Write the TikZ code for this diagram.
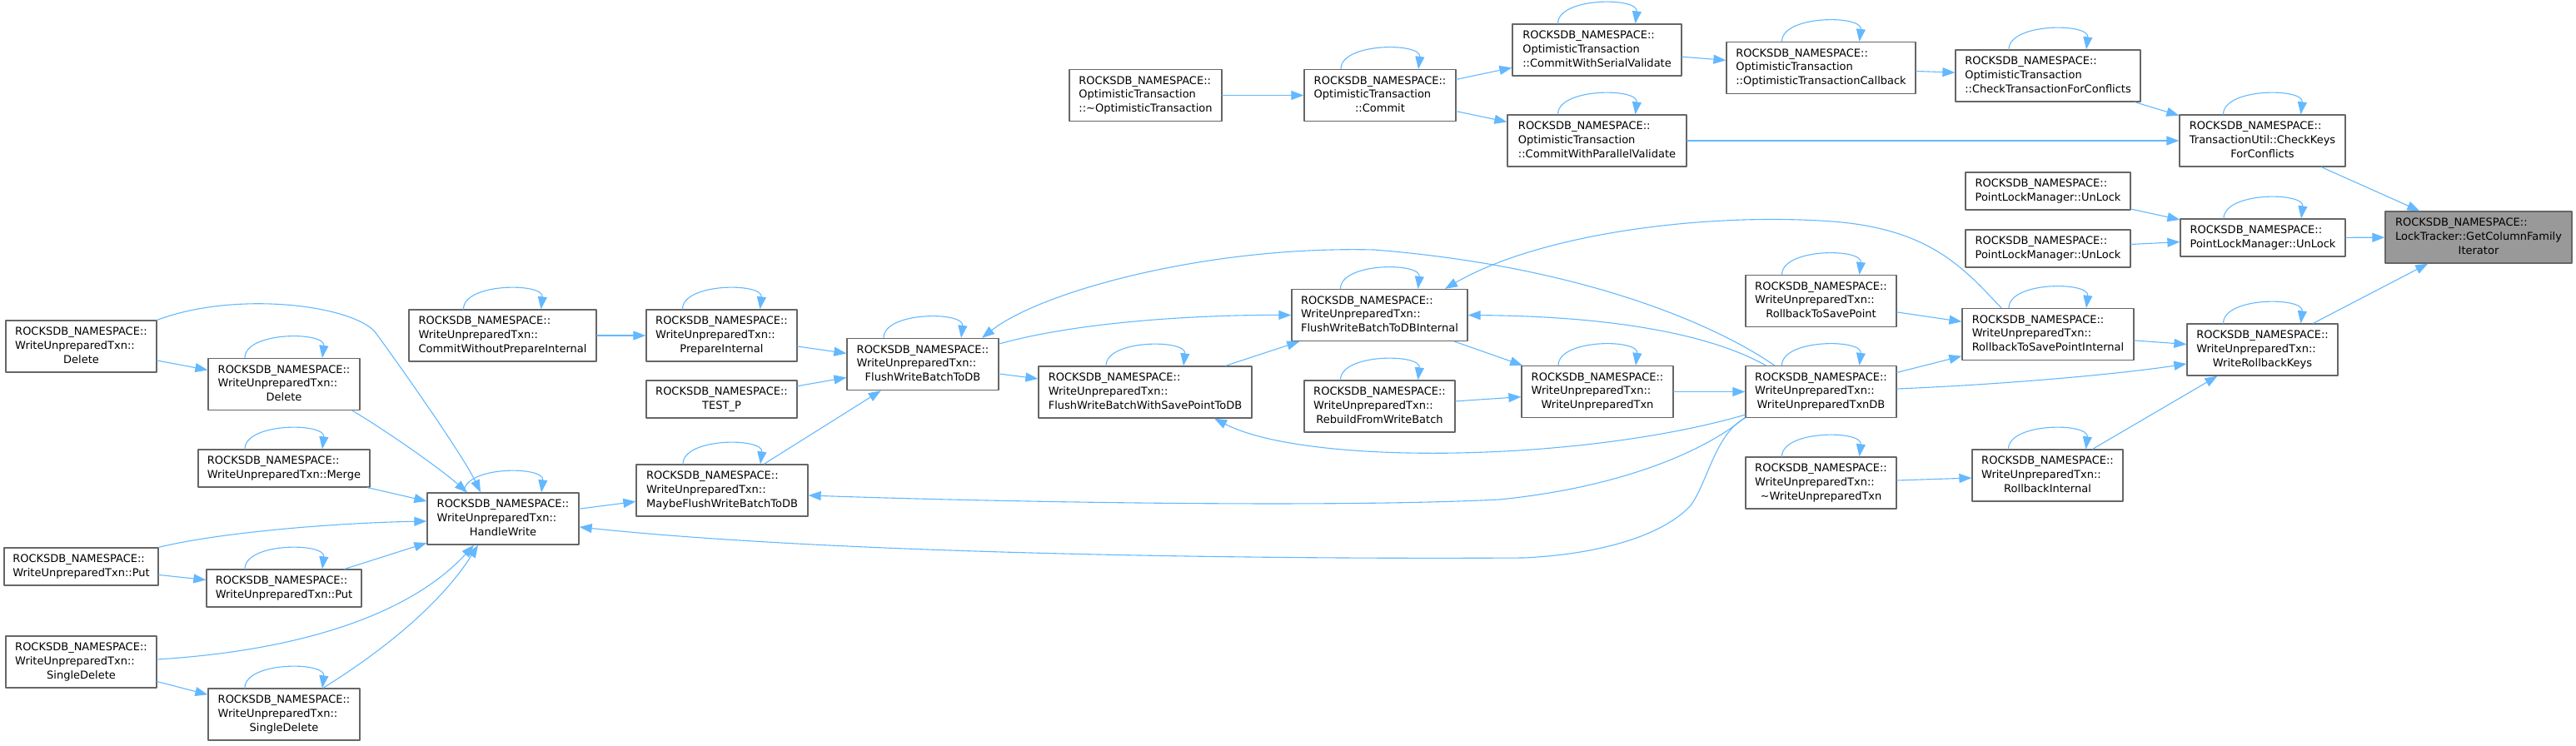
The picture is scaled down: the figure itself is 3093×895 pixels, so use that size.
\documentclass[tikz,border=0pt]{standalone}
\usepackage{fontspec}
\setmainfont{DejaVu Sans}
\usetikzlibrary{arrows.meta}
\definecolor{edgeblue}{HTML}{63B8FF}
\definecolor{boxline}{HTML}{666666}
\definecolor{hlfill}{HTML}{999999}
\newcommand{\nodefont}{\fontsize{13pt}{16.7pt}\selectfont}
\newcommand{\lblthree}[3]{\begin{tabular}{@{}l@{}}#1\\#2\\\multicolumn{1}{@{}c@{}}{#3}\end{tabular}}
\newcommand{\lbltwo}[2]{\begin{tabular}{@{}l@{}}#1\\\multicolumn{1}{@{}c@{}}{#2}\end{tabular}}
\newcommand{\rns}{ROCKSDB\_NAMESPACE::}
\newcommand{\wut}{WriteUnpreparedTxn::}
\newcommand{\otname}{OptimisticTransaction}
\begin{document}
\begin{tikzpicture}[x=1pt, y=-1pt, line cap=round, line join=round,
  box/.style={draw=boxline, line width=1.3pt, fill=white, inner sep=0pt, minimum height=62pt, font=\nodefont},
  twoline/.style={box, minimum height=45pt},
  focus/.style={box, fill=hlfill},
  call/.style={draw=edgeblue, line width=1.1pt, -{Triangle[length=15pt, width=11pt]}}]
\useasboundingbox (0,0) rectangle (3093,895);
\node[box, minimum width=183pt] (otdtor) at (1375.5,114.5) {\lblthree{\rns}{\otname}{::\textasciitilde\otname}};
\node[box, minimum width=182pt] (commit) at (1657,114.5) {\lblthree{\rns}{\otname}{::Commit}};
\node[box, minimum width=203pt] (serial) at (1917.5,60) {\lblthree{\rns}{\otname}{::CommitWithSerialValidate}};
\node[box, minimum width=227pt] (callback) at (2186.5,81.5) {\lblthree{\rns}{\otname}{::OptimisticTransactionCallback}};
\node[box, minimum width=222pt] (checktxn) at (2459,91) {\lblthree{\rns}{\otname}{::CheckTransactionForConflicts}};
\node[box, minimum width=215pt] (parallel) at (1917.5,169) {\lblthree{\rns}{\otname}{::CommitWithParallelValidate}};
\node[box, minimum width=199pt] (checkkeys) at (2716.5,169) {\lblthree{\rns}{TransactionUtil::CheckKeys}{ForConflicts}};
\node[twoline, minimum width=198pt] (plmA) at (2459,229.5) {\lbltwo{\rns}{PointLockManager::UnLock}};
\node[twoline, minimum width=198pt] (plmB) at (2459,298.5) {\lbltwo{\rns}{PointLockManager::UnLock}};
\node[twoline, minimum width=198pt] (plmC) at (2717,285.5) {\lbltwo{\rns}{PointLockManager::UnLock}};
\node[focus, minimum width=224pt] (target) at (2976,285) {\lblthree{\rns}{LockTracker::GetColumnFamily}{Iterator}};
\node[box, minimum width=181pt] (rbsp) at (2186.5,361.5) {\lblthree{\rns}{\wut}{RollbackToSavePoint}};
\node[box, minimum width=206pt] (rbspint) at (2459,401.5) {\lblthree{\rns}{\wut}{RollbackToSavePointInternal}};
\node[box, minimum width=181pt] (wrk) at (2716.5,420) {\lblthree{\rns}{\wut}{WriteRollbackKeys}};
\node[box, minimum width=181pt] (utxndb) at (2186.5,470.5) {\lblthree{\rns}{\wut}{WriteUnpreparedTxnDB}};
\node[box, minimum width=181pt] (utxndtor) at (2186.5,580) {\lblthree{\rns}{\wut}{\textasciitilde WriteUnpreparedTxn}};
\node[box, minimum width=181pt] (rbint) at (2458.5,571) {\lblthree{\rns}{\wut}{RollbackInternal}};
\node[box, minimum width=182pt] (utxnctor) at (1918,470.5) {\lblthree{\rns}{\wut}{WriteUnpreparedTxn}};
\node[box, minimum width=181pt] (rebuild) at (1656.5,488) {\lblthree{\rns}{\wut}{RebuildFromWriteBatch}};
\node[box, minimum width=211pt] (fwbint) at (1656.5,378.5) {\lblthree{\rns}{\wut}{FlushWriteBatchToDBInternal}};
\node[box, minimum width=256pt] (fwbsp) at (1375,471) {\lblthree{\rns}{\wut}{FlushWriteBatchWithSavePointToDB}};
\node[box, minimum width=182pt] (fwb) at (1108,437.5) {\lblthree{\rns}{\wut}{FlushWriteBatchToDB}};
\node[box, minimum width=181pt] (prepint) at (866.5,403) {\lblthree{\rns}{\wut}{PrepareInternal}};
\node[twoline, minimum width=181pt] (testp) at (866.5,479.5) {\lbltwo{\rns}{TEST\_P}};
\node[box, minimum width=206pt] (maybeflush) at (867,589) {\lblthree{\rns}{\wut}{MaybeFlushWriteBatchToDB}};
\node[box, minimum width=225pt] (cwoprep) at (603.5,403) {\lblthree{\rns}{\wut}{CommitWithoutPrepareInternal}};
\node[box, minimum width=182pt] (handlewrite) at (604,623) {\lblthree{\rns}{\wut}{HandleWrite}};
\node[box, minimum width=181pt] (deleteA) at (97.5,416) {\lblthree{\rns}{\wut}{Delete}};
\node[box, minimum width=182pt] (deleteB) at (341,461.5) {\lblthree{\rns}{\wut}{Delete}};
\node[twoline, minimum width=206pt] (merge) at (341,562.5) {\lbltwo{\rns}{\wut Merge}};
\node[twoline, minimum width=185pt] (putA) at (97.5,680.5) {\lbltwo{\rns}{\wut Put}};
\node[twoline, minimum width=186pt] (putB) at (341,706.5) {\lbltwo{\rns}{\wut Put}};
\node[box, minimum width=181pt] (sdelA) at (97.5,795) {\lblthree{\rns}{\wut}{SingleDelete}};
\node[box, minimum width=182pt] (sdelB) at (341,858) {\lblthree{\rns}{\wut}{SingleDelete}};
\foreach \a/\b in {otdtor/commit, commit/serial, commit/parallel, serial/callback, callback/checktxn,
  checktxn/checkkeys, parallel/checkkeys, checkkeys/target, plmA/plmC, plmB/plmC, plmC/target,
  wrk/target, rbspint/wrk, rbint/wrk, rbsp/rbspint, utxndb/rbspint, utxndtor/rbint,
  utxnctor/utxndb, rebuild/utxnctor, fwbint/utxnctor, fwbsp/fwbint, fwb/fwbsp, prepint/fwb,
  testp/fwb, maybeflush/fwb, cwoprep/prepint, handlewrite/maybeflush, deleteA/deleteB,
  merge/handlewrite, putA/putB, putB/handlewrite, sdelA/sdelB}
  \draw[call] (\a) -- (\b);
\draw[call] ([yshift=24.5pt]fwb.east) .. controls (1300,385) and (1450,378) .. (fwbint.west);
\draw[call] ([xshift=-66.5pt]utxndb.north) .. controls (2060,405) and (1950,380) .. (fwbint.east);
\draw[call] ([xshift=-56pt]utxndb.north) .. controls (2060,390) and (1900,320) .. (1650,300)
  .. controls (1450,295) and (1250,350) .. ([xshift=71pt]fwb.north);
\draw[call] ([xshift=-56pt]rbspint.north) .. controls (2360,325) and (2320,275) .. (2200,266)
  .. controls (2050,255) and (1850,280) .. ([xshift=78.5pt]fwbint.north);
\draw[call] ([yshift=3.5pt]utxndb.east) .. controls (2400,462) and (2540,450) .. ([yshift=-17pt]wrk.west);
\draw[call] ([yshift=4pt]utxndb.south west) .. controls (1900,555) and (1570,560) .. ([xshift=83pt]fwbsp.south);
\draw[call] ([yshift=1pt]utxndb.south west) .. controls (2050,540) and (1950,585) .. (1800,600)
  .. controls (1600,610) and (1200,603) .. ([yshift=-6pt]maybeflush.east);
\draw[call] (utxndb.south west) .. controls (2060,520) and (2050,580) .. (2030,607)
  .. controls (2000,640) and (1930,665) .. (1830,670)
  .. controls (1500,672) and (1000,665) .. ([yshift=-10pt]handlewrite.east);
\draw[call] (deleteA.north east) .. controls (280,350) and (415,365) .. (449,397)
  .. controls (470,425) and (555,545) .. ([xshift=-27pt]handlewrite.north);
\draw[call] ([xshift=82pt]deleteB.south) .. controls (460,515) and (525,560) .. ([xshift=-43pt]handlewrite.north);
\draw[call] (putA.north east) .. controls (260,640) and (400,628) .. ([yshift=-3pt]handlewrite.west);
\draw[call] ([yshift=3pt]sdelA.east) .. controls (380,780) and (500,730) .. ([xshift=-35pt]handlewrite.south);
\draw[call] ([xshift=47pt]sdelB.north) .. controls (430,800) and (520,740) .. ([xshift=-30pt]handlewrite.south);
\foreach \n in {commit, serial, callback, parallel, checktxn, checkkeys, plmC, rbspint, wrk, rbint,
  fwbint, rebuild, utxnctor, rbsp, utxndb, utxndtor, prepint, fwb, fwbsp, maybeflush, cwoprep,
  deleteB, merge, handlewrite, putB, sdelB}
  \draw[call] ([xshift=-47pt]\n.north) .. controls +(0,32pt) and +(4pt,32pt) .. ([xshift=46pt]\n.north);
\end{tikzpicture}
\end{document}
